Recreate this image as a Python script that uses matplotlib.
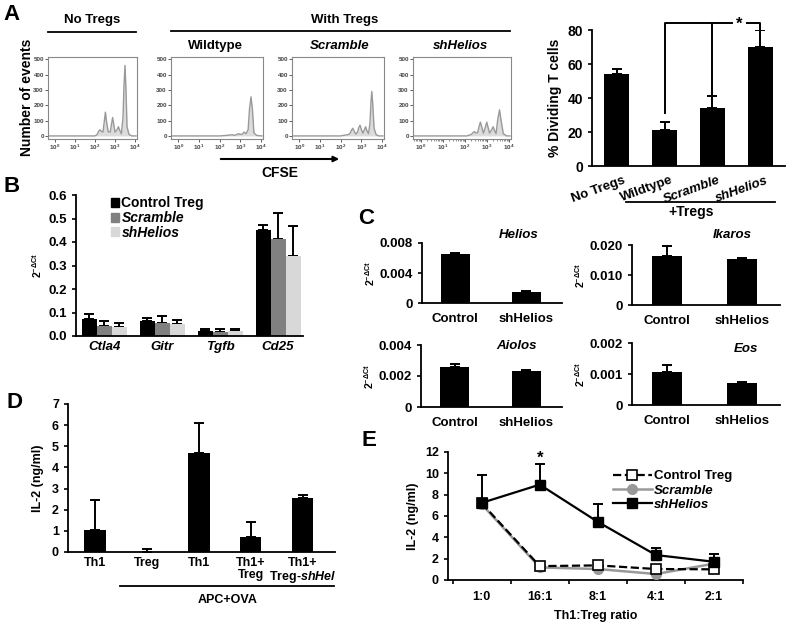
import numpy as np
import matplotlib
matplotlib.use("Agg")
import matplotlib.pyplot as plt
from matplotlib.lines import Line2D
from matplotlib.patches import Patch, FancyArrowPatch

plt.rcParams['font.family'] = ['Liberation Sans', 'DejaVu Sans']
plt.rcParams['font.weight'] = 'bold'
plt.rcParams['axes.labelweight'] = 'bold'
plt.rcParams['mathtext.fontset'] = 'custom'
plt.rcParams['mathtext.rm'] = 'Liberation Sans:bold'
plt.rcParams['mathtext.bf'] = 'Liberation Sans:bold'
plt.rcParams['mathtext.it'] = 'Liberation Sans:italic:bold'
plt.rcParams['axes.linewidth'] = 1.3

# ---- data ----
# A: CFSE histogram outlines (log10 CFSE, number of events)
h_notreg_x = [-0.3, 2.0, 2.1, 2.18, 2.25, 2.32, 2.4, 2.46, 2.52, 2.58, 2.66, 2.76, 2.83, 2.88,
              2.94, 3.0, 3.1, 3.17, 3.24, 3.32, 3.4, 3.45, 3.5, 3.55, 3.6, 3.7, 3.85, 4.05]
h_notreg_y = [0, 0, 8, 30, 40, 30, 25, 90, 155, 90, 28, 25, 80, 120,
              75, 25, 40, 60, 35, 15, 120, 330, 460, 300, 60, 10, 0, 0]
h_wt_x = [-0.3, 2.0, 2.3, 2.5, 2.6, 2.7, 2.82, 2.92, 3.0, 3.1, 3.19, 3.28, 3.38, 3.45, 3.52,
          3.59, 3.66, 3.8, 4.05]
h_wt_y = [0, 0, 3, 6, 8, 4, 8, 15, 10, 12, 25, 15, 40, 180, 255, 170, 20, 3, 0]
h_scr_x = [-0.3, 2.0, 2.2, 2.35, 2.45, 2.52, 2.59, 2.66, 2.74, 2.82, 2.88, 2.94, 3.0, 3.08,
           3.15, 3.21, 3.27, 3.35, 3.42, 3.47, 3.51, 3.56, 3.62, 3.72, 3.85, 4.05]
h_scr_y = [0, 0, 5, 8, 15, 35, 50, 30, 12, 25, 55, 70, 45, 18,
           40, 60, 35, 15, 80, 220, 290, 200, 50, 8, 0, 0]
h_sh_x = [-0.3, 2.1, 2.3, 2.4, 2.45, 2.5, 2.58, 2.65, 2.71, 2.77, 2.85, 2.93, 3.0, 3.06,
          3.13, 3.22, 3.29, 3.35, 3.42, 3.5, 3.58, 3.65, 3.75, 3.9, 4.05]
h_sh_y = [0, 0, 10, 25, 28, 20, 20, 60, 90, 60, 18, 55, 90, 55,
          18, 40, 60, 35, 15, 110, 170, 100, 15, 0, 0]

# A: % dividing T cells
div_groups = ['No Tregs', 'Wildtype', 'Scramble', 'shHelios']
div_vals = [54, 21, 34, 70]
div_err = [3, 5, 7, 10]

# B: 2^-dCt of Treg genes
b_genes = ['Ctla4', 'Gitr', 'Tgfb', 'Cd25']
b_series = ['Control Treg', 'Scramble', 'shHelios']
b_ctrl = [0.072, 0.064, 0.020, 0.450]
b_ctrl_err = [0.022, 0.012, 0.011, 0.021]
b_scr = [0.043, 0.057, 0.017, 0.412]
b_scr_err = [0.021, 0.028, 0.014, 0.112]
b_sh = [0.040, 0.051, 0.020, 0.340]
b_sh_err = [0.017, 0.017, 0.011, 0.128]

# C: Ikaros family expression
c_groups = ['Control', 'shHelios']
c_genes = ['Helios', 'Ikaros', 'Aiolos', 'Eos']
c_helios = [0.0065, 0.0015]
c_helios_err = [0.00015, 0.00012]
c_ikaros = [0.0163, 0.0155]
c_ikaros_err = [0.0035, 0.0003]
c_aiolos = [0.0026, 0.00232]
c_aiolos_err = [0.00016, 0.00005]
c_eos = [0.00105, 0.0007]
c_eos_err = [0.00024, 0.00005]

# D: IL-2
d_labels = ['Th1', 'Treg', 'Th1', 'Th1+\nTreg', 'Th1+\nTreg-$\\mathit{shHel}$']
d_vals = [1.05, 0.0, 4.7, 0.7, 2.57]
d_err = [1.4, 0.15, 1.4, 0.72, 0.14]

# E: IL-2 vs Th1:Treg ratio
e_ratios = ['1:0', '16:1', '8:1', '4:1', '2:1']
e_ctrl = [7.2, 1.3, 1.37, 1.03, 1.0]
e_scr = [7.1, 1.18, 1.03, 0.56, 1.53]
e_sh = [7.23, 8.94, 5.45, 2.34, 1.71]
e_sh_err = [2.65, 1.9, 1.7, 0.68, 0.72]

W, H = 800, 627
fig = plt.figure(figsize=(8, 6.27), dpi=100)


def box(l, t, r, b):
    return [l / W, 1 - b / H, (r - l) / W, (b - t) / H]


def ftext(x, y, s, **kw):
    kw.setdefault('ha', 'center')
    kw.setdefault('va', 'center')
    fig.text(x / W, 1 - y / H, s, **kw)


def fline(x1, x2, y, lw=1.3):
    fig.add_artist(Line2D([x1 / W, x2 / W], [1 - y / H, 1 - y / H],
                          transform=fig.transFigure, color='k', lw=lw))


def clean(ax):
    ax.spines['top'].set_visible(False)
    ax.spines['right'].set_visible(False)
    ax.tick_params(axis='x', length=0)
    ax.tick_params(axis='y', length=3, width=1.2)


def upper_err(ax, x, y, e, color='k'):
    ax.errorbar(x, y, yerr=[np.zeros(len(e)), e], fmt='none', ecolor=color,
                elinewidth=1.4, capsize=3.5, capthick=1.4, zorder=1)


# ---- A: histograms ----
hist_boxes = [(48, 57, 137, 139), (171, 57, 263, 139), (292, 57, 384, 139), (413, 57, 511, 139)]
hist_data = [(h_notreg_x, h_notreg_y), (h_wt_x, h_wt_y), (h_scr_x, h_scr_y), (h_sh_x, h_sh_y)]
for (hx, hy), bx in zip(hist_data, hist_boxes):
    ax = fig.add_axes(box(*bx))
    xs = np.power(10.0, hx)
    ax.fill_between(xs, 0, hy, color='#dcdcdc', lw=0)
    ax.plot(xs, hy, color='#999999', lw=1.0)
    ax.set_xscale('log')
    ax.set_xlim(10 ** -0.35, 10 ** 4.1)
    ax.set_ylim(-20, 515)
    ax.set_yticks([0, 100, 200, 300, 400, 500])
    ax.set_xticks([1, 10, 100, 1000, 10000])
    for s in ax.spines.values():
        s.set_color('#888888')
        s.set_linewidth(0.8)
    ax.tick_params(labelsize=4.5, length=2, width=0.6, pad=1, colors='#444444')
    ax.tick_params(which='minor', length=1.2, width=0.5, colors='#666666')

ftext(12, 15, 'A', fontsize=16)
ftext(92, 20, 'No Tregs', fontsize=9.5)
fline(48, 136, 32)
ftext(345, 20, 'With Tregs', fontsize=9.5)
fline(171, 510, 31)
ftext(215, 46, 'Wildtype', fontsize=9.5)
ftext(340, 46, 'Scramble', fontsize=9.5, style='italic')
ftext(460, 46, 'shHelios', fontsize=9.5, style='italic')
ftext(27, 97, 'Number of events', fontsize=10, rotation=90)
fig.add_artist(FancyArrowPatch((218 / W, 1 - 159 / H), (342 / W, 1 - 159 / H),
                               transform=fig.transFigure, arrowstyle='-|>',
                               mutation_scale=8, lw=1.5, color='k'))
ftext(280, 173, 'CFSE', fontsize=10)

# ---- A: % dividing ----
ax = fig.add_axes(box(592, 30, 785, 166))
xa = np.arange(len(div_groups))
ax.bar(xa, div_vals, width=0.52, color='k', zorder=2)
upper_err(ax, xa, div_vals, div_err)
ax.set_xlim(-0.52, 3.52)
ax.set_ylim(0, 80)
ax.set_yticks([0, 20, 40, 60, 80])
clean(ax)
ax.tick_params(labelsize=10)
ax.set_xticks(xa + 0.12)
ax.set_xticklabels(div_groups, rotation=20, ha='right', rotation_mode='anchor', fontsize=9.5)
ax.tick_params(axis='x', pad=6)
for t in ax.get_xticklabels()[2:]:
    t.set_style('italic')
ax.set_ylabel('% Dividing T cells', fontsize=10, labelpad=4)
top = 84
ax.plot([1, 1, 2.42], [31, top, top], color='k', lw=1.4, clip_on=False)
ax.plot([2, 2], [41.5, top], color='k', lw=1.4, clip_on=False)
ax.plot([2.73, 3, 3], [top, top, 80.5], color='k', lw=1.4, clip_on=False)
ax.text(2.57, top - 0.5, '*', ha='center', va='center', fontsize=12)
fline(626, 775, 202)
ftext(691, 212, '+Tregs', fontsize=10)

# ---- B ----
ax = fig.add_axes(box(76, 195, 303, 336))
xb = np.arange(len(b_genes))
bw = 0.26
b_colors = ['k', '#808080', '#d8d8d8']
for k, (v, e) in enumerate([(b_ctrl, b_ctrl_err), (b_scr, b_scr_err), (b_sh, b_sh_err)]):
    pos = xb + (k - 1) * bw
    ax.bar(pos, v, width=bw, color=b_colors[k], zorder=2)
    upper_err(ax, pos, v, e)
ax.set_xlim(-0.49, 3.43)
ax.set_ylim(0, 0.6)
ax.set_yticks(np.arange(0, 0.61, 0.1))
ax.set_yticklabels(['0.0', '0.1', '0.2', '0.3', '0.4', '0.5', '0.6'])
clean(ax)
ax.tick_params(labelsize=9.5)
ax.set_xticks(xb)
ax.set_xticklabels(b_genes, style='italic')
ax.set_ylabel('2$^{\\mathrm{-\\Delta Ct}}$', fontsize=7.5, labelpad=3)
handles = [Patch(color=c) for c in b_colors]
leg = ax.legend(handles, b_series, loc='upper left', bbox_to_anchor=(0.13, 1.03), frameon=False,
                fontsize=10, handlelength=0.6, handleheight=0.6, handletextpad=0.15,
                labelspacing=0.05, borderaxespad=0)
for t in leg.get_texts()[1:]:
    t.set_style('italic')
ftext(12, 187, 'B', fontsize=16)

# ---- C ----
c_boxes = [(422, 243, 562, 303), (632, 245, 780, 305), (421, 345, 562, 407), (632, 343, 780, 405)]
c_data = [(c_helios, c_helios_err), (c_ikaros, c_ikaros_err), (c_aiolos, c_aiolos_err), (c_eos, c_eos_err)]
c_ticks = [([0, 0.004, 0.008], ['0', '0.004', '0.008']),
           ([0, 0.010, 0.020], ['0', '0.010', '0.020']),
           ([0, 0.002, 0.004], ['0', '0.002', '0.004']),
           ([0, 0.001, 0.002], ['0', '0.001', '0.002'])]
c_title_pos = [(0.69, 1.13), (0.68, 1.17), (0.68, 0.98), (0.77, 0.9)]
for (v, e), bx, (tk, tl), gene, tp in zip(c_data, c_boxes, c_ticks, c_genes, c_title_pos):
    ax = fig.add_axes(box(*bx))
    xc = np.arange(len(c_groups))
    ax.bar(xc, v, width=0.4, color='k', zorder=2)
    upper_err(ax, xc, v, e)
    ax.set_xlim(-0.47, 1.5)
    ax.set_ylim(0, tk[-1])
    ax.set_yticks(tk)
    ax.set_yticklabels(tl)
    ax.set_xticks(xc)
    ax.set_xticklabels(c_groups)
    clean(ax)
    ax.tick_params(labelsize=9.5)
    ax.tick_params(axis='x', pad=7)
    ax.set_ylabel('2$^{\\mathrm{-\\Delta Ct}}$', fontsize=7.5, labelpad=2)
    ax.text(tp[0], tp[1], gene, transform=ax.transAxes, ha='center', va='center',
            fontsize=9.5, style='italic')
ftext(366, 219, 'C', fontsize=16)

# ---- D ----
ax = fig.add_axes(box(68, 404, 335, 552))
xd = np.arange(len(d_labels))
ax.bar(xd, d_vals, width=0.41, color='k', zorder=2)
upper_err(ax, xd, d_vals, d_err)
ax.set_xlim(-0.52, 4.62)
ax.set_ylim(0, 7)
ax.set_yticks(range(8))
ax.set_xticks(xd)
ax.set_xticklabels(d_labels, linespacing=1.0)
clean(ax)
ax.tick_params(labelsize=9)
ax.set_ylabel('IL-2 (ng/ml)', fontsize=9, labelpad=6)
fline(120, 334, 586)
ftext(228, 600, 'APC+OVA', fontsize=9)
ftext(14, 402, 'D', fontsize=16)

# ---- E ----
ax = fig.add_axes(box(448, 452, 743, 580))
xe = np.arange(len(e_ratios))
upper_err(ax, xe, e_sh, e_sh_err)
ax.plot(xe, e_ctrl, color='k', ls='--', lw=1.6, marker='s', ms=7, mfc='white', mec='k',
        mew=1.2, label='Control Treg', zorder=4)
ax.plot(xe, e_scr, color='#999999', lw=1.8, marker='o', ms=7, mfc='#999999', mec='#999999',
        label='Scramble', zorder=3)
ax.plot(xe, e_sh, color='k', lw=1.6, marker='s', ms=7, mfc='k', label='shHelios', zorder=5)
ax.text(xe[1], e_sh[1] + e_sh_err[1] + 0.6, '*', ha='center', va='center', fontsize=12)
ax.set_xlim(-0.58, 4.42)
ax.set_ylim(0, 12)
ax.set_yticks(range(0, 13, 2))
ax.set_xticks(xe)
ax.set_xticklabels(e_ratios)
ax.set_xticks(np.arange(-0.5, 4.6, 1), minor=True)
clean(ax)
ax.tick_params(axis='x', which='minor', length=3, width=1.2)
ax.tick_params(labelsize=9)
ax.tick_params(axis='x', pad=8)
ax.set_ylabel('IL-2 (ng/ml)', fontsize=9, labelpad=4)
ax.set_xlabel('Th1:Treg ratio', fontsize=9, labelpad=5)
leg = ax.legend(loc='upper right', bbox_to_anchor=(0.98, 0.9), frameon=False, fontsize=9.5,
                handlelength=3.0, handletextpad=0.1, labelspacing=0.15, borderaxespad=0)
for t in leg.get_texts()[1:]:
    t.set_style('italic')
ftext(369, 441, 'E', fontsize=16)

fig.savefig('out.png', dpi=100)
